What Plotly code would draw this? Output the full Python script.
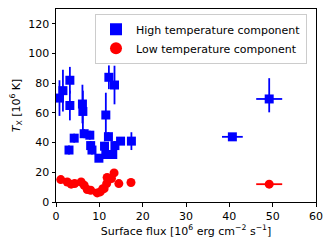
import plotly.graph_objects as go

# High temperature component
hi_x = [0.8, 1.6, 3.2, 3.2, 3.0, 4.2, 6.1, 6.2, 6.5, 7.8, 8.0, 8.3, 9.9, 11.2, 11.5, 11.5, 12.1, 12.2, 13.1, 13.5, 13.6, 14.9, 17.4, 40.7, 49.2]
hi_y = [70, 75, 82, 65, 35, 43, 66, 61, 46, 45, 38, 35, 29.5, 37.6, 58.6, 32, 44, 84, 32, 78.8, 38, 41, 41, 43.9, 69.4]
hi_yerr_plus = [12, 14, 9, 10, 3, 3, 13, 14, 3, 3, 3, 3, 2, 3, 15, 2, 3, 8, 2, 13, 3, 2, 6, 1.5, 14]
hi_yerr_minus = [12, 14, 9, 10, 3, 3, 13, 14, 3, 3, 3, 3, 2, 3, 15, 2, 3, 8, 2, 13, 3, 2, 6, 1.5, 9]
hi_xerr = [0.3, 0.3, 0.3, 0.3, 0.3, 0.3, 0.3, 0.3, 0.3, 0.3, 0.3, 0.3, 0.3, 0.3, 0.3, 0.3, 0.3, 0.3, 0.3, 0.3, 0.3, 0.3, 0.8, 2.4, 3.0]

# Low temperature component
lo_x = [1.1, 2.6, 3.5, 4.3, 5.8, 6.5, 7.2, 8.0, 9.5, 10.2, 10.8, 11.1, 11.7, 11.8, 12.8, 13.4, 14.5, 17.3, 49.2]
lo_y = [15.1, 13.5, 12.0, 12.4, 13.5, 11.3, 8.4, 7.9, 6.1, 6.8, 9.0, 9.0, 12.4, 16.5, 15.8, 19.6, 12.4, 13.1, 12.0]
lo_yerr = [1, 1, 1, 1, 1, 1, 1, 1, 1, 1, 1, 1, 1, 1, 1, 1, 1, 1, 1]
lo_xerr = [0.3, 0.3, 0.3, 0.3, 0.3, 0.3, 0.3, 0.3, 0.3, 0.3, 0.3, 0.3, 0.3, 0.3, 0.3, 0.3, 0.3, 0.3, 3.0]

x_ticks = [0, 10, 20, 30, 40, 50, 60]
y_ticks = [0, 20, 40, 60, 80, 100, 120]

font = "DejaVu Sans"

fig = go.Figure()
fig.add_trace(go.Scatter(
    x=hi_x, y=hi_y, mode="markers", name="High temperature component",
    marker=dict(symbol="square", size=9, color="#0000ff"),
    error_y=dict(type="data", array=hi_yerr_plus, arrayminus=hi_yerr_minus, color="#0000ff", thickness=1.8, width=0),
    error_x=dict(type="data", array=hi_xerr, color="#0000ff", thickness=1.8, width=0),
))
fig.add_trace(go.Scatter(
    x=lo_x, y=lo_y, mode="markers", name="Low temperature component",
    marker=dict(symbol="circle", size=9, color="#ff0000"),
    error_y=dict(type="data", array=lo_yerr, color="#ff0000", thickness=1.8, width=0),
    error_x=dict(type="data", array=lo_xerr, color="#ff0000", thickness=1.8, width=0),
))

axis_common = dict(
    showgrid=False, zeroline=False, showline=True, linecolor="black", linewidth=1,
    mirror=True, ticks="outside", ticklen=3.5, tickwidth=0.8, tickcolor="black",
    tickfont=dict(family=font, size=11, color="black"), automargin=False,
)
fig.update_xaxes(range=[0, 60], tickvals=x_ticks,
                 title=dict(text="Surface flux [10<sup>6</sup> erg cm<sup>\u22122</sup> s<sup>\u22121</sup>]",
                            font=dict(family=font, size=11, color="black"), standoff=5),
                 **axis_common)
fig.update_yaxes(range=[0, 130], tickvals=y_ticks,
                 title=dict(text="<i>T</i><sub>X</sub> [10<sup>6</sup> K]",
                            font=dict(family=font, size=11, color="black"), standoff=5),
                 **axis_common)

# page body has an 8px default margin, so the figure is sized/offset to compensate
fig.update_layout(
    width=324, height=241,
    margin=dict(l=48, r=16, t=1, b=47, autoexpand=False),
    paper_bgcolor="white", plot_bgcolor="white",
    font=dict(family=font, size=11, color="black"),
    legend=dict(x=0.15, y=0.975, xanchor="left", yanchor="top",
                bgcolor="rgba(255,255,255,0.8)", bordercolor="#cccccc", borderwidth=1,
                font=dict(family=font, size=11, color="black"),
                itemsizing="constant", tracegroupgap=0),
    showlegend=True,
)

fig.write_html("out.html")
